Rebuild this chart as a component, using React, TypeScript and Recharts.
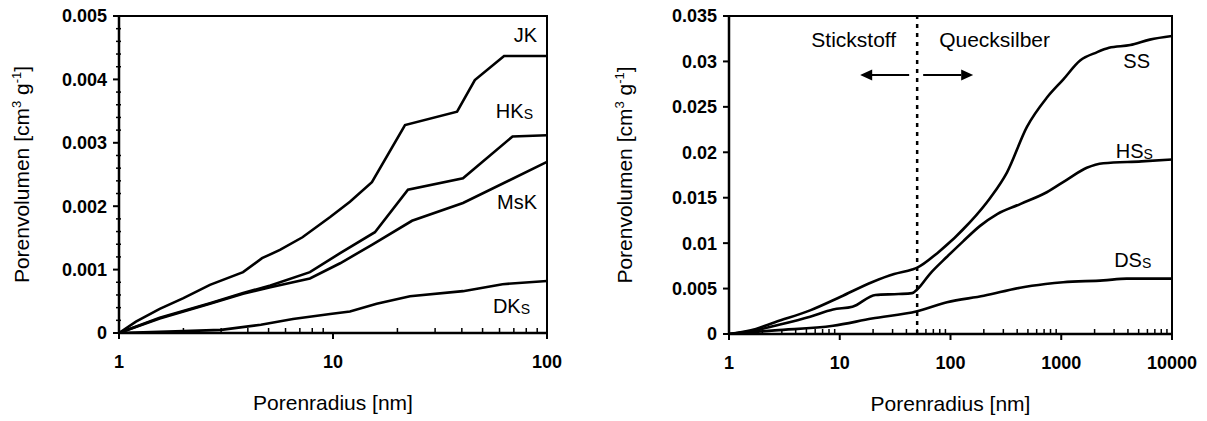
import React from 'react';
import { LineChart, Line, XAxis, YAxis, ReferenceArea, ReferenceLine, ReferenceDot } from 'recharts';

const FONT = '"Liberation Sans", Arial, Helvetica, sans-serif';
const INK = '#000';

// ---------- shared texts ----------
const xTitle = 'Porenradius [nm]';
const leftNames = ['JK', 'HK', 'MsK', 'DK'];
const rightNames = ['SS', 'HS', 'DS'];
const methodNames = ['Stickstoff', 'Quecksilber'];
const poreLimit = 50; // nm, boundary between nitrogen and mercury data

// ---------- left panel ----------
const leftXMajor = [1, 10, 100];
const leftXTicks = [1, 2, 3, 4, 5, 6, 7, 8, 9, 10, 20, 30, 40, 50, 60, 70, 80, 90, 100];
const leftYMajor = [0, 0.001, 0.002, 0.003, 0.004, 0.005];
const leftYTicks = [
  0, 0.0002, 0.0004, 0.0006, 0.0008, 0.001, 0.0012, 0.0014, 0.0016, 0.0018, 0.002,
  0.0022, 0.0024, 0.0026, 0.0028, 0.003, 0.0032, 0.0034, 0.0036, 0.0038, 0.004,
  0.0042, 0.0044, 0.0046, 0.0048, 0.005,
];

const jkR = [1, 1.2, 1.55, 2, 2.66, 3.8, 4.66, 5.65, 7.2, 9.7, 12, 15.2, 21.7, 38, 46, 63, 100];
const jkV = [0, 0.00018, 0.00038, 0.00055, 0.00076, 0.00096, 0.00118, 0.00131, 0.00151, 0.00183, 0.00207, 0.00238, 0.00328, 0.00349, 0.00399, 0.00437, 0.00437];

const hkR = [1, 1.55, 2.66, 3.8, 5.1, 7.8, 10.8, 15.7, 22.4, 40.5, 69, 100];
const hkV = [0, 0.00024, 0.00047, 0.00063, 0.00075, 0.00096, 0.00126, 0.00159, 0.00226, 0.00244, 0.0031, 0.00312];

const mskR = [1, 1.55, 2.66, 3.8, 5.1, 7.8, 10.8, 15.2, 23.4, 40.5, 100];
const mskV = [0, 0.00023, 0.00046, 0.00062, 0.00072, 0.00086, 0.0011, 0.00139, 0.00177, 0.00205, 0.0027];

const dkR = [1, 2, 3, 4.6, 6.5, 9.7, 12, 16, 22.9, 40.5, 62, 100];
const dkV = [0, 0.00003, 0.00005, 0.00013, 0.00022, 0.0003, 0.00034, 0.00046, 0.00058, 0.00066, 0.00077, 0.00082];

// ---------- right panel ----------
const rightXMajor = [1, 10, 100, 1000, 10000];
const rightXTicks = [
  1, 2, 3, 4, 5, 6, 7, 8, 9, 10, 20, 30, 40, 50, 60, 70, 80, 90, 100,
  200, 300, 400, 500, 600, 700, 800, 900, 1000, 2000, 3000, 4000, 5000, 6000, 7000, 8000, 9000, 10000,
];
const rightYTicks = [0, 0.005, 0.01, 0.015, 0.02, 0.025, 0.03, 0.035];

const ssR = [1, 1.75, 2.6, 5.4, 10.2, 19.5, 31, 45, 50, 76, 150, 229, 324, 490, 740, 1040, 1480, 2090, 2700, 4200, 6300, 10000];
const ssV = [0, 0.00056, 0.0013, 0.0026, 0.0041, 0.0057, 0.0066, 0.0071, 0.0073, 0.0089, 0.0123, 0.015, 0.0178, 0.0228, 0.026, 0.028, 0.0301, 0.031, 0.0315, 0.0318, 0.0324, 0.0328];

const hsR = [1, 1.75, 2.6, 5.4, 8.7, 13, 21, 34, 45, 50, 65, 93, 130, 185, 264, 426, 740, 1130, 1700, 2400, 5300, 10000];
const hsV = [0, 0.0004, 0.0009, 0.0019, 0.0027, 0.003, 0.0043, 0.0044, 0.0045, 0.0049, 0.0066, 0.0085, 0.0102, 0.0119, 0.0132, 0.0143, 0.0156, 0.017, 0.0183, 0.0188, 0.019, 0.0192];

const dsR = [1, 2.6, 8.7, 19.5, 50, 93, 200, 426, 720, 1040, 2400, 3900, 10000];
const dsV = [0, 0.0004, 0.0009, 0.0017, 0.0025, 0.0035, 0.0042, 0.0051, 0.0055, 0.0057, 0.0059, 0.0061, 0.0061];

const zip = (r: number[], v: number[]) => r.map((x, i) => ({ r: x, v: v[i] }));

const jk = zip(jkR, jkV);
const hk = zip(hkR, hkV);
const msk = zip(mskR, mskV);
const dk = zip(dkR, dkV);
const ss = zip(ssR, ssV);
const hs = zip(hsR, hsV);
const ds = zip(dsR, dsV);

// ---------- render helpers ----------
const makeXTick = (major: number[]) => (props: any) => {
  const { x, y, payload } = props;
  const isMajor = major.includes(payload.value);
  return (
    <g>
      {isMajor ? (
        <line x1={x} x2={x} y1={y} y2={y + 6} stroke={INK} strokeWidth={2} />
      ) : (
        <line x1={x} x2={x} y1={y} y2={y - 5} stroke={INK} strokeWidth={1.5} />
      )}
      {isMajor && (
        <text x={x} y={y + 35} textAnchor="middle" fontFamily={FONT} fontWeight="bold" fontSize={18} fill={INK}>
          {String(payload.value)}
        </text>
      )}
    </g>
  );
};

const makeYTick = (major: number[]) => (props: any) => {
  const { x, y, payload } = props;
  const isMajor = major.includes(payload.value);
  return (
    <g>
      {isMajor ? (
        <line x1={x - 6} x2={x} y1={y} y2={y} stroke={INK} strokeWidth={2} />
      ) : (
        <line x1={x - 3} x2={x + 2} y1={y} y2={y} stroke={INK} strokeWidth={1.5} />
      )}
      {isMajor && (
        <text x={x - 12} y={y} dy="0.36em" textAnchor="end" fontFamily={FONT} fontWeight="bold" fontSize={18} fill={INK}>
          {String(payload.value)}
        </text>
      )}
    </g>
  );
};

const vbOf = (p: any) => {
  const vb = p.viewBox || {};
  return { x: vb.x ?? p.x ?? 0, y: vb.y ?? p.y ?? 0, width: vb.width ?? 0, height: vb.height ?? 0 };
};

const xTitleLabel = (p: any) => {
  const vb = vbOf(p);
  return (
    <text x={vb.x + vb.width / 2} y={vb.y + 77} textAnchor="middle" fontFamily={FONT} fontSize={21} fill={INK}>
      {xTitle}
    </text>
  );
};

const makeYTitle = (dx: number) => (p: any) => {
  const vb = vbOf(p);
  const cx = vb.x + dx;
  const cy = vb.y + vb.height / 2;
  return (
    <text
      x={cx}
      y={cy}
      transform={`rotate(-90, ${cx}, ${cy})`}
      textAnchor="middle"
      dy="0.36em"
      fontFamily={FONT}
      fontSize={21}
      fill={INK}
    >
      Porenvolumen [cm
      <tspan fontSize={13} dy={-8}>3</tspan>
      <tspan dy={8}> g</tspan>
      <tspan fontSize={13} dy={-8}>-1</tspan>
      <tspan dy={8}>]</tspan>
    </text>
  );
};

const seriesLabel = (main: string, sub?: string) => (p: any) => {
  const vb = vbOf(p);
  return (
    <text x={vb.x} y={vb.y} textAnchor="end" fontFamily={FONT} fontSize={20} fill={INK}>
      {main}
      {sub ? (
        <tspan fontSize={14} dy={1}>
          {sub}
        </tspan>
      ) : null}
    </text>
  );
};

const methodNotes = (p: any) => {
  const { x, y } = vbOf(p);
  return (
    <g>
      <line x1={x - 8} x2={x - 46} y1={y} y2={y} stroke={INK} strokeWidth={2} />
      <polygon points={`${x - 57},${y} ${x - 45},${y - 5.5} ${x - 45},${y + 5.5}`} fill={INK} />
      <line x1={x + 6} x2={x + 44} y1={y} y2={y} stroke={INK} strokeWidth={2} />
      <polygon points={`${x + 56},${y} ${x + 44},${y - 5.5} ${x + 44},${y + 5.5}`} fill={INK} />
      <text x={x - 21} y={y - 28} textAnchor="end" fontFamily={FONT} fontSize={21} fill={INK}>
        {methodNames[0]}
      </text>
      <text x={x + 22} y={y - 28} textAnchor="start" fontFamily={FONT} fontSize={21} fill={INK}>
        {methodNames[1]}
      </text>
    </g>
  );
};

const lineProps = {
  dataKey: 'v',
  stroke: INK,
  strokeWidth: 2.6,
  dot: false,
  activeDot: false,
  isAnimationActive: false,
};

const LeftChart = () => (
  <LineChart width={590} height={421} margin={{ top: 16, right: 43, left: 0, bottom: 0 }}>
    <XAxis
      dataKey="r"
      type="number"
      scale="log"
      domain={[1, 100]}
      allowDataOverflow
      ticks={leftXTicks}
      interval={0}
      tickSize={0}
      tickMargin={0}
      tickLine={false}
      tick={makeXTick(leftXMajor)}
      axisLine={{ stroke: INK, strokeWidth: 2.5 }}
      height={88}
      label={xTitleLabel}
    />
    <YAxis
      type="number"
      domain={[0, 0.005]}
      allowDataOverflow
      ticks={leftYTicks}
      interval={0}
      tickSize={0}
      tickMargin={0}
      tickLine={false}
      tick={makeYTick(leftYMajor)}
      axisLine={{ stroke: INK, strokeWidth: 2.5 }}
      width={119}
      label={makeYTitle(21)}
    />
    <ReferenceArea x1={1} x2={100} y1={0} y2={0.005} fill="none" fillOpacity={0} stroke={INK} strokeWidth={2} />
    <Line data={jk} type="linear" {...lineProps} name={leftNames[0]} />
    <Line data={hk} type="linear" {...lineProps} name={leftNames[1]} />
    <Line data={msk} type="linear" {...lineProps} name={leftNames[2]} />
    <Line data={dk} type="linear" {...lineProps} name={leftNames[3]} />
    <ReferenceDot x={89.8} y={0.00459} r={0} fill="none" stroke="none" label={seriesLabel(leftNames[0])} />
    <ReferenceDot x={86} y={0.00339} r={0} fill="none" stroke="none" label={seriesLabel(leftNames[1], 'S')} />
    <ReferenceDot x={89.8} y={0.00196} r={0} fill="none" stroke="none" label={seriesLabel(leftNames[2])} />
    <ReferenceDot x={83.3} y={0.000315} r={0} fill="none" stroke="none" label={seriesLabel(leftNames[3], 'S')} />
  </LineChart>
);

const RightChart = () => (
  <LineChart width={607} height={421} margin={{ top: 16, right: 35, left: 0, bottom: 0 }}>
    <XAxis
      dataKey="r"
      type="number"
      scale="log"
      domain={[1, 10000]}
      allowDataOverflow
      ticks={rightXTicks}
      interval={0}
      tickSize={0}
      tickMargin={0}
      tickLine={false}
      tick={makeXTick(rightXMajor)}
      axisLine={{ stroke: INK, strokeWidth: 2.5 }}
      height={87}
      label={xTitleLabel}
    />
    <YAxis
      type="number"
      domain={[0, 0.035]}
      allowDataOverflow
      ticks={rightYTicks}
      interval={0}
      tickSize={0}
      tickMargin={0}
      tickLine={false}
      tick={makeYTick(rightYTicks)}
      axisLine={{ stroke: INK, strokeWidth: 2.5 }}
      width={129}
      label={makeYTitle(24)}
    />
    <ReferenceArea x1={1} x2={10000} y1={0} y2={0.035} fill="none" fillOpacity={0} stroke={INK} strokeWidth={2} />
    <ReferenceLine x={poreLimit} stroke={INK} strokeWidth={2.5} strokeDasharray="4 5" />
    <Line data={ss} type="monotone" {...lineProps} name={rightNames[0]} />
    <Line data={hs} type="monotone" {...lineProps} name={rightNames[1]} />
    <Line data={ds} type="monotone" {...lineProps} name={rightNames[2]} />
    <ReferenceDot x={poreLimit} y={0.0285} r={0} fill="none" stroke="none" label={methodNotes} />
    <ReferenceDot x={6330} y={0.0293} r={0} fill="none" stroke="none" label={seriesLabel(rightNames[0])} />
    <ReferenceDot x={6730} y={0.0194} r={0} fill="none" stroke="none" label={seriesLabel(rightNames[1], 'S')} />
    <ReferenceDot x={6500} y={0.00735} r={0} fill="none" stroke="none" label={seriesLabel(rightNames[2], 'S')} />
  </LineChart>
);

export default function App() {
  return (
    <div style={{ position: 'absolute', left: 0, top: 0, width: 1207, height: 421, background: '#fff' }}>
      <div style={{ position: 'absolute', left: 0, top: 0 }}>
        <LeftChart />
      </div>
      <div style={{ position: 'absolute', left: 600, top: 0 }}>
        <RightChart />
      </div>
    </div>
  );
}
